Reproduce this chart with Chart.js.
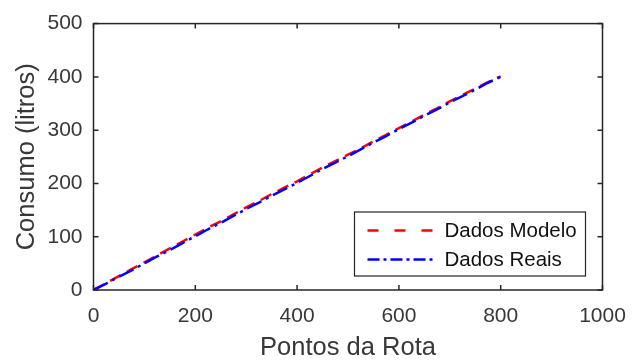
<!DOCTYPE html>
<html lang="pt">
  <head>
    <meta charset="UTF-8" />
    <title>Consumo por ponto da rota</title>
    <script src="https://cdn.jsdelivr.net/npm/chart.js"></script>
    <style>
      html, body { margin: 0; padding: 0; background: #ffffff; }
    </style>
  </head>

  <body>
    <canvas id="myChart" width="643" height="363"></canvas>

    <script>
      // pontos da rota (eixo x) e consumo acumulado em litros
      const pontos = [0, 25, 50, 75, 100, 125, 150, 175, 200, 225, 250, 275, 300, 325, 350, 375, 400,
        425, 450, 475, 500, 525, 550, 575, 600, 625, 650, 675, 700, 725, 750, 775, 800];
      const dadosModelo = [0, 13, 26, 39, 52, 65, 78, 91, 104, 117, 129, 142, 155, 167, 180, 192, 204,
        217, 230, 242, 254, 266, 279, 291, 304, 316, 329, 341, 354, 366, 378, 390, 401];
      const dadosReais = [0, 12, 25, 37, 50, 63, 75, 88, 101, 114, 126, 139, 152, 164, 177, 189, 201,
        214, 227, 239, 251, 264, 277, 289, 302, 314, 327, 339, 352, 364, 376, 389, 400];

      const xTicks = [0, 200, 400, 600, 800, 1000];
      const yTicks = [0, 100, 200, 300, 400, 500];

      const fontFamily = "'Liberation Sans', Arial, sans-serif";
      const axisColor = "#262626";
      const labelColor = "#383838";

      // moldura da área do gráfico com marcas para dentro (estilo MATLAB)
      const framePlugin = {
        id: "frame",
        afterDatasetsDraw(chart) {
          const { ctx, chartArea: a, scales } = chart;
          const tick = 5;
          ctx.save();
          ctx.strokeStyle = axisColor;
          ctx.lineWidth = 1.5;
          ctx.strokeRect(a.left, a.top, a.right - a.left, a.bottom - a.top);
          ctx.beginPath();
          xTicks.forEach((v) => {
            const x = scales.x.getPixelForValue(v);
            ctx.moveTo(x, a.bottom); ctx.lineTo(x, a.bottom - tick);
            ctx.moveTo(x, a.top); ctx.lineTo(x, a.top + tick);
          });
          yTicks.forEach((v) => {
            const y = scales.y.getPixelForValue(v);
            ctx.moveTo(a.left, y); ctx.lineTo(a.left + tick, y);
            ctx.moveTo(a.right, y); ctx.lineTo(a.right - tick, y);
          });
          ctx.stroke();
          ctx.restore();
        },
      };

      // legenda dentro do gráfico, canto inferior direito, com caixa
      const boxLegend = {
        id: "boxLegend",
        afterDraw(chart, args, opts) {
          const { ctx, chartArea: a } = chart;
          const w = 231, h = 64;
          const left = a.right - 17 - w;
          const top = a.bottom - 14 - h;
          ctx.save();
          ctx.fillStyle = "#ffffff";
          ctx.fillRect(left, top, w, h);
          ctx.strokeStyle = axisColor;
          ctx.lineWidth = 1.2;
          ctx.strokeRect(left, top, w, h);
          ctx.font = "20.5px " + fontFamily;
          ctx.textBaseline = "middle";
          chart.data.datasets.forEach((ds, i) => {
            const y = top + 18.5 + i * 29;
            ctx.beginPath();
            ctx.setLineDash(opts.dashes[i]);
            ctx.strokeStyle = ds.borderColor;
            ctx.lineWidth = 2.5;
            ctx.moveTo(left + 13, y);
            ctx.lineTo(left + 82, y);
            ctx.stroke();
            ctx.setLineDash([]);
            ctx.fillStyle = "#111111";
            ctx.fillText(ds.label, left + 90, y + 1);
          });
          ctx.restore();
        },
      };

      const ctx = document.getElementById("myChart").getContext("2d");
      const myChart = new Chart(ctx, {
        type: "line",
        data: {
          datasets: [
            {
              label: "Dados Modelo",
              data: pontos.map((p, i) => ({ x: p, y: dadosModelo[i] })),
              borderColor: "#ff0000",
              borderWidth: 2.5,
              borderDash: [12, 7],
              pointRadius: 0,
              order: 1,
            },
            {
              label: "Dados Reais",
              data: pontos.map((p, i) => ({ x: p, y: dadosReais[i] })),
              borderColor: "#0000ff",
              borderWidth: 2.5,
              borderDash: [16, 5, 3, 5],
              pointRadius: 0,
              order: 0,
            },
          ],
        },
        options: {
          responsive: false,
          animation: false,
          devicePixelRatio: 1,
          layout: { padding: { top: 16.5, right: 40.5, left: 0, bottom: 0 } },
          plugins: {
            legend: { display: false },
            tooltip: { enabled: false },
            boxLegend: { dashes: [[11, 16], [12, 4, 3, 4]] },
          },
          scales: {
            x: {
              type: "linear",
              min: 0,
              max: 1000,
              afterBuildTicks: (s) => { s.ticks = xTicks.map((v) => ({ value: v })); },
              afterFit: (s) => { s.height = 73; },
              grid: { display: false, drawTicks: false },
              border: { display: false },
              ticks: {
                color: labelColor,
                padding: 14,
                maxRotation: 0,
                font: { family: fontFamily, size: 21 },
                callback: (value) => String(value),
              },
              title: {
                display: true,
                text: "Pontos da Rota",
                color: labelColor,
                padding: { top: 0, bottom: 0 },
                font: { family: fontFamily, size: 25.5 },
              },
            },
            y: {
              type: "linear",
              min: 0,
              max: 500,
              afterBuildTicks: (s) => { s.ticks = yTicks.map((v) => ({ value: v })); },
              afterFit: (s) => { s.width = 93.5; },
              grid: { display: false, drawTicks: false },
              border: { display: false },
              ticks: {
                color: labelColor,
                padding: 11,
                font: { family: fontFamily, size: 21 },
                callback: (value) => String(value),
              },
              title: {
                display: true,
                text: "Consumo (litros)",
                color: labelColor,
                padding: { top: 12, bottom: 0 },
                font: { family: fontFamily, size: 25.5 },
              },
            },
          },
        },
        plugins: [framePlugin, boxLegend],
      });
    </script>
  </body>
</html>
